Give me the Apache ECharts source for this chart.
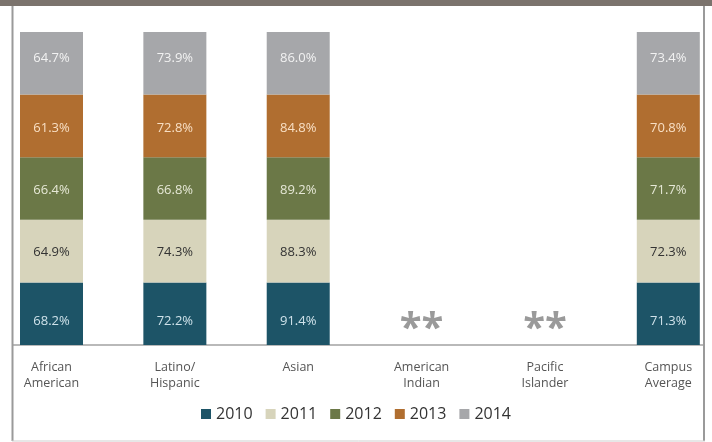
<!DOCTYPE html>
<html><head><meta charset="utf-8">
<script src="https://cdn.jsdelivr.net/npm/echarts@6/dist/echarts.min.js"></script>
<style>html,body{margin:0;padding:0;background:#fff}#c{width:712px;height:442px}</style>
</head><body><div id="c"></div>
<script>
var categories = ['African\nAmerican', 'Latino/\nHispanic', 'Asian', 'American\nIndian', 'Pacific\nIslander', 'Campus\nAverage'];
var years = ['2010', '2011', '2012', '2013', '2014'];
var v2010 = [68.2, 72.2, 91.4, null, null, 71.3];
var v2011 = [64.9, 74.3, 88.3, null, null, 72.3];
var v2012 = [66.4, 66.8, 89.2, null, null, 71.7];
var v2013 = [61.3, 72.8, 84.8, null, null, 70.8];
var v2014 = [64.7, 73.9, 86.0, null, null, 73.4];
var noteText = '**';

var seriesValues = [v2010, v2011, v2012, v2013, v2014];
var colors = ['#1d5467', '#d7d4bb', '#6b7847', '#b06e30', '#a6a7aa'];
var labelColors = ['#cfe2ea', '#333333', '#e6e8d6', '#f8dfc4', '#f2f2f2'];
var labelOffsets = [[0, 8], [0, 1], [0, 2], [0, 2], [0, -5]];
var FONT = '"Open Sans", "Noto Sans", sans-serif';

var series = seriesValues.map(function (vals, si) {
  return {
    name: years[si],
    type: 'bar',
    stack: 'all',
    barWidth: 63,
    clip: false,
    xAxisIndex: 0, yAxisIndex: 0,
    itemStyle: { color: colors[si] },
    label: {
      show: true, position: 'inside', offset: labelOffsets[si],
      color: labelColors[si], fontSize: 13, fontFamily: FONT,
      formatter: function (p) { return p.data.pct == null ? '' : p.data.pct.toFixed(1) + '%'; }
    },
    data: vals.map(function (v) {
      if (v == null) {
        if (si === 0) {
          return { value: 1, pct: null, itemStyle: { color: 'rgba(0,0,0,0)' },
            label: { formatter: noteText, color: '#9a9a9a', fontSize: 40, fontWeight: 'bold', offset: [0, 16] } };
        }
        return { value: null, pct: null };
      }
      return { value: 1, pct: v };
    })
  };
});

var chart = echarts.init(document.getElementById('c'));
chart.setOption({
  animation: false,
  backgroundColor: '#ffffff',
  grid: [
    { left: 51.5, right: 43.7, top: 32, bottom: 97 },
    { left: 13, right: 8, top: 32, bottom: 97 }
  ],
  legend: {
    data: years, bottom: 15, left: 'center', icon: 'rect',
    itemWidth: 10, itemHeight: 10, itemGap: 13,
    textStyle: { fontSize: 16, color: '#333', fontFamily: FONT }
  },
  xAxis: [{
    type: 'category', data: categories, boundaryGap: false, gridIndex: 0,
    axisLine: { show: false },
    axisTick: { show: false },
    axisLabel: { color: '#555', fontSize: 12.5, fontFamily: FONT, margin: 14, lineHeight: 16, interval: 0 }
  }, {
    type: 'category', data: [''], gridIndex: 1,
    axisLine: { lineStyle: { color: '#a3a3a3', width: 1.5 } },
    axisTick: { show: false }, axisLabel: { show: false }
  }],
  yAxis: [
    { type: 'value', min: 0, max: 5, show: false, gridIndex: 0 },
    { type: 'value', min: 0, max: 5, show: false, gridIndex: 1 }
  ],
  series: series,
  graphic: [
    { type: 'rect', z: 101, shape: { x: 0, y: 0, width: 712, height: 6 }, style: { fill: '#7b736d' } },
    { type: 'line', z: 101, shape: { x1: 12.5, y1: 6, x2: 12.5, y2: 441 }, style: { stroke: '#9a9a9a', lineWidth: 2 } },
    { type: 'line', z: 101, shape: { x1: 704, y1: 6, x2: 704, y2: 441 }, style: { stroke: '#9a9a9a', lineWidth: 2 } },
    { type: 'line', z: 101, shape: { x1: 12, y1: 441, x2: 705, y2: 441 }, style: { stroke: '#cfcfcf', lineWidth: 1 } }
  ]
});
</script></body></html>
